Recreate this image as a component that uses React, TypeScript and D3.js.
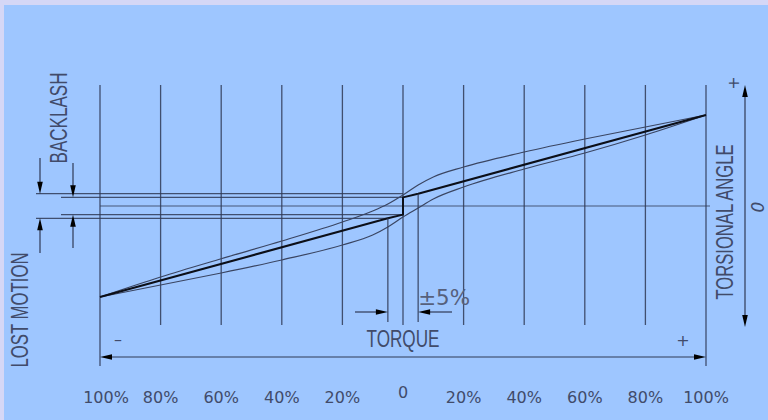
import React from "react";
import * as d3 from "d3";

const torqueTicks = [-100, -80, -60, -40, -20, 0, 20, 40, 60, 80, 100];
const tickLabels = ["100%", "80%", "60%", "40%", "20%", "0", "20%", "40%", "60%", "80%", "100%"];

const curveTorque = [-100, -80, -60, -40, -20, -10, -5, 0, 5, 10, 20, 40, 60, 80, 100];
const upperAngle = [-100, -78, -58, -38.5, -17.6, -5.5, 2.2, 12.1, 23.1, 31.9, 42.9, 59.3, 73.6, 86.8, 100];
const lowerAngle = [-100, -86.8, -73.6, -59.3, -42.9, -31.9, -23.1, -12.1, -2.2, 7.7, 20.9, 40.7, 58.2, 78, 100];

const thickTorque = [-100, -5, 0, 0, 5, 100];
const thickAngle = [-100, -13.5, -9.5, 9.5, 13.5, 100];

const lostMotion = 13.5;
const backlash = 9.5;
const torqueBand = 5;

const W = 768;
const H = 420;
const LINE = "#2f3a56";
const TEXT = "#414b6a";

function arrowHead(x: number, y: number, dx: number, dy: number, len = 12, hw = 2.8) {
  const bx = x - dx * len;
  const by = y - dy * len;
  const px = -dy * hw;
  const py = dx * hw;
  return `M${x},${y}L${bx + px},${by + py}L${bx - px},${by - py}Z`;
}

export default function App() {
  const x = d3.scaleLinear().domain([-100, 100]).range([100, 706]);
  const y = d3.scaleLinear().domain([-100, 100]).range([297, 115]);

  const line = d3
    .line<[number, number]>()
    .x((d) => x(d[0]))
    .y((d) => y(d[1]))
    .curve(d3.curveMonotoneX);
  const straight = d3
    .line<[number, number]>()
    .x((d) => x(d[0]))
    .y((d) => y(d[1]));

  const upper = line(curveTorque.map((t, i) => [t, upperAngle[i]] as [number, number])) || "";
  const lower = line(curveTorque.map((t, i) => [t, lowerAngle[i]] as [number, number])) || "";
  const thick = straight(thickTorque.map((t, i) => [t, thickAngle[i]] as [number, number])) || "";

  const gridTop = 85;
  const gridBottom = 325;
  const outerBottom = 366;
  const x0 = x(0);
  const xl = x(-torqueBand);
  const xr = x(torqueBand);
  const yLmTop = y(lostMotion);
  const yLmBot = y(-lostMotion);
  const yBlTop = y(backlash);
  const yBlBot = y(-backlash);
  const yZero = y(0);
  const arrowY = 357;
  const dimY = 312;

  return (
    <svg
      width={W}
      height={H}
      style={{ position: "fixed", left: 0, top: 0, display: "block" }}
      fontFamily="'DejaVu Sans', sans-serif"
    >
      <rect x={0} y={0} width={W} height={H} fill="#d5d7f6" />
      <rect x={4} y={5} width={W - 4} height={H - 5} fill="#9ec6ff" />

      {torqueTicks.map((t, i) => {
        const outer = i === 0 || i === torqueTicks.length - 1;
        return (
          <line
            key={"g" + t}
            x1={x(t)}
            x2={x(t)}
            y1={gridTop}
            y2={outer ? outerBottom : gridBottom}
            stroke={LINE}
            strokeWidth={1.3}
            strokeOpacity={0.85}
          />
        );
      })}

      <line x1={x(-100)} x2={710} y1={yZero} y2={yZero} stroke={LINE} strokeWidth={1.1} strokeOpacity={0.8} />

      <line x1={36} x2={x0} y1={yLmTop} y2={yLmTop} stroke={LINE} strokeWidth={1.3} strokeOpacity={0.85} />
      <line x1={61} x2={x0} y1={yBlTop} y2={yBlTop} stroke={LINE} strokeWidth={1.3} strokeOpacity={0.85} />
      <line x1={61} x2={x0} y1={yBlBot} y2={yBlBot} stroke={LINE} strokeWidth={1.3} strokeOpacity={0.85} />
      <line x1={36} x2={xl} y1={yLmBot} y2={yLmBot} stroke={LINE} strokeWidth={1.3} strokeOpacity={0.85} />

      <line x1={40} x2={40} y1={158} y2={yLmTop - 10} stroke={LINE} strokeWidth={1.2} />
      <path d={arrowHead(40, yLmTop, 0, 1)} fill="#000" />
      <line x1={40} x2={40} y1={yLmBot + 10} y2={253} stroke={LINE} strokeWidth={1.2} />
      <path d={arrowHead(40, yLmBot, 0, -1)} fill="#000" />
      <line x1={73} x2={73} y1={163} y2={yBlTop - 10} stroke={LINE} strokeWidth={1.2} />
      <path d={arrowHead(73, yBlTop, 0, 1)} fill="#000" />
      <line x1={73} x2={73} y1={yBlBot + 10} y2={248} stroke={LINE} strokeWidth={1.2} />
      <path d={arrowHead(73, yBlBot, 0, -1)} fill="#000" />

      <path d={upper} fill="none" stroke="#3a4562" strokeWidth={1.2} />
      <path d={lower} fill="none" stroke="#3a4562" strokeWidth={1.2} />
      <path d={thick} fill="none" stroke="#0c0f18" strokeWidth={2} strokeLinejoin="round" />

      <line x1={xl} x2={xl} y1={y(-lostMotion)} y2={322} stroke={LINE} strokeWidth={1.3} strokeOpacity={0.85} />
      <line x1={xr} x2={xr} y1={y(lostMotion)} y2={322} stroke={LINE} strokeWidth={1.3} strokeOpacity={0.85} />
      <line x1={355} x2={xl - 10} y1={dimY} y2={dimY} stroke={LINE} strokeWidth={1.2} />
      <path d={arrowHead(xl, dimY, 1, 0)} fill="#000" />
      <line x1={xr + 10} x2={452} y1={dimY} y2={dimY} stroke={LINE} strokeWidth={1.2} />
      <path d={arrowHead(xr, dimY, -1, 0)} fill="#000" />
      <text x={xr} y={305} fontSize={22} fill="#56607c" textLength={52} lengthAdjust="spacingAndGlyphs">±5%</text>

      <line x1={x(-100) + 10} x2={x(100) - 10} y1={arrowY} y2={arrowY} stroke={LINE} strokeWidth={1.2} />
      <path d={arrowHead(x(-100), arrowY, -1, 0)} fill="#000" />
      <path d={arrowHead(x(100), arrowY, 1, 0)} fill="#000" />
      <text x={118} y={345} fontSize={16} fill={TEXT} textAnchor="middle">–</text>
      <text x={683} y={346} fontSize={16} fill={TEXT} textAnchor="middle">+</text>
      <text
        x={x0}
        y={347}
        fontSize={24}
        fill={TEXT}
        textAnchor="middle"
        fontFamily="'Liberation Sans', Arial, sans-serif"
        textLength={73}
        lengthAdjust="spacingAndGlyphs"
      >
        TORQUE
      </text>

      {torqueTicks.map((t, i) => (
        <text
          key={"l" + t}
          x={x(t) + (i === 0 ? 6 : 0)}
          y={t === 0 ? 398 : 403}
          fontSize={16}
          fill={TEXT}
          textAnchor="middle"
        >
          {tickLabels[i]}
        </text>
      ))}

      <line x1={745} x2={745} y1={95} y2={317} stroke={LINE} strokeWidth={1.2} />
      <path d={arrowHead(745, 85, 0, -1)} fill="#000" />
      <path d={arrowHead(745, 327, 0, 1)} fill="#000" />
      <text transform="translate(739,83) rotate(-90)" fontSize={16} fill={TEXT} textAnchor="middle" fontStyle="italic">+</text>
      <text transform="translate(764,207) rotate(-90)" fontSize={17} fill={TEXT} textAnchor="middle" fontStyle="italic">0</text>

      <text
        transform="translate(733,222) rotate(-90)"
        fontSize={23}
        fill={TEXT}
        textAnchor="middle"
        fontFamily="'Liberation Sans', Arial, sans-serif"
        textLength={155}
        lengthAdjust="spacingAndGlyphs"
      >
        TORSIONAL ANGLE
      </text>
      <text
        transform="translate(67,118) rotate(-90)"
        fontSize={23}
        fill={TEXT}
        textAnchor="middle"
        fontFamily="'Liberation Sans', Arial, sans-serif"
        textLength={91}
        lengthAdjust="spacingAndGlyphs"
      >
        BACKLASH
      </text>
      <text
        transform="translate(28,310) rotate(-90)"
        fontSize={23}
        fill={TEXT}
        textAnchor="middle"
        fontFamily="'Liberation Sans', Arial, sans-serif"
        textLength={115}
        lengthAdjust="spacingAndGlyphs"
      >
        LOST MOTION
      </text>
    </svg>
  );
}
